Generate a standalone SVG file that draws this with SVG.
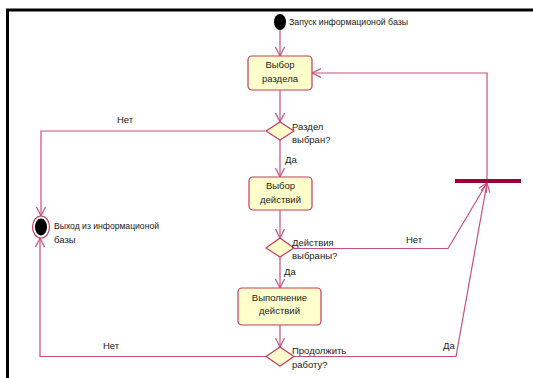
<svg xmlns="http://www.w3.org/2000/svg" width="533" height="378" viewBox="0 0 533 378">
<style>
.t{font-family:"Liberation Sans",Arial,sans-serif;font-size:9.5px;fill:#222}
.c{text-anchor:middle}
.box{fill:#ffffcc;stroke:#c23a62;stroke-width:1.2}
.dia{fill:#ffffcc;stroke:#c23a62;stroke-width:1.2}
.ln{fill:none;stroke:#c8507a;stroke-width:1.2}
</style>
<defs>
<marker id="a" markerUnits="userSpaceOnUse" markerWidth="12" markerHeight="12" refX="9" refY="5" orient="auto">
<path d="M0,0.5 L9,5 L0,9.5" fill="none" stroke="#c8507a" stroke-width="1.2"/>
</marker>
</defs>
<rect width="533" height="378" fill="#fff"/>
<g id="frame">
<path d="M7.5,378 V10 H533" fill="none" stroke="#000" stroke-width="3"/>
</g>
<g id="connectors">
<path class="ln" d="M280,30 V56" marker-end="url(#a)"/>
<path class="ln" d="M280,90 V122" marker-end="url(#a)"/>
<path class="ln" d="M280,140 V177" marker-end="url(#a)"/>
<path class="ln" d="M265,131 H41 V216" marker-end="url(#a)"/>
<path class="ln" d="M280,210 V238" marker-end="url(#a)"/>
<path class="ln" d="M280,257 V288" marker-end="url(#a)"/>
<path class="ln" d="M280,325 V347" marker-end="url(#a)"/>
<path class="ln" d="M294,248.5 H448 L487,183" marker-end="url(#a)"/>
<path class="ln" d="M294,356.5 H456 L487,183" marker-end="url(#a)"/>
<path class="ln" d="M266,356.5 H40 V238" marker-end="url(#a)"/>
<path class="ln" d="M487,179 V73 H312" marker-end="url(#a)"/>
<text class="t" x="117" y="123">Нет</text>
<text class="t" x="285" y="163">Да</text>
<text class="t" x="406" y="243">Нет</text>
<text class="t" x="284" y="275">Да</text>
<text class="t" x="443" y="349">Да</text>
<text class="t" x="103" y="349">Нет</text>
</g>
<g id="start">
<ellipse cx="280" cy="22" rx="6" ry="8" fill="#000"/>
<text class="t" x="289" y="25" textLength="119" lengthAdjust="spacingAndGlyphs">Запуск информационой базы</text>
</g>
<g id="box1">
<rect class="box" x="248" y="56" width="64" height="34" rx="4"/>
<text class="t c" x="280" y="68">Выбор</text>
<text class="t c" x="280" y="82">раздела</text>
</g>
<g id="dec1">
<path class="dia" d="M280,122 L294,131 L280,140 L266,131 Z"/>
<text class="t" x="292" y="130">Раздел</text>
<text class="t" x="292" y="143">выбран?</text>
</g>
<g id="box2">
<rect class="box" x="249" y="177" width="63" height="33" rx="4"/>
<text class="t c" x="280.5" y="189">Выбор</text>
<text class="t c" x="280.5" y="203">действий</text>
</g>
<g id="dec2">
<path class="dia" d="M280,238 L294,248 L280,257 L266,248 Z"/>
<text class="t" x="292" y="246">Действия</text>
<text class="t" x="292" y="259">выбраны?</text>
</g>
<g id="box3">
<rect class="box" x="238" y="288" width="83" height="37" rx="4"/>
<text class="t c" x="279.5" y="301">Выполнение</text>
<text class="t c" x="279.5" y="314">действий</text>
</g>
<g id="dec3">
<path class="dia" d="M280,347 L294,356.5 L280,366 L266,356.5 Z"/>
<text class="t" x="292" y="354">Продолжить</text>
<text class="t" x="292" y="368">работу?</text>
</g>
<g id="exit">
<ellipse cx="41" cy="227" rx="8.5" ry="11" fill="#fff" stroke="#c23a62" stroke-width="1.2"/>
<ellipse cx="41" cy="227" rx="6" ry="8.5" fill="#000"/>
<text class="t" x="54" y="229" textLength="105" lengthAdjust="spacingAndGlyphs">Выход  из информационой</text>
<text class="t" x="54" y="243">базы</text>
</g>
<g id="bar">
<rect x="455" y="179" width="66" height="4" fill="#a0003a"/>
</g>
</svg>
